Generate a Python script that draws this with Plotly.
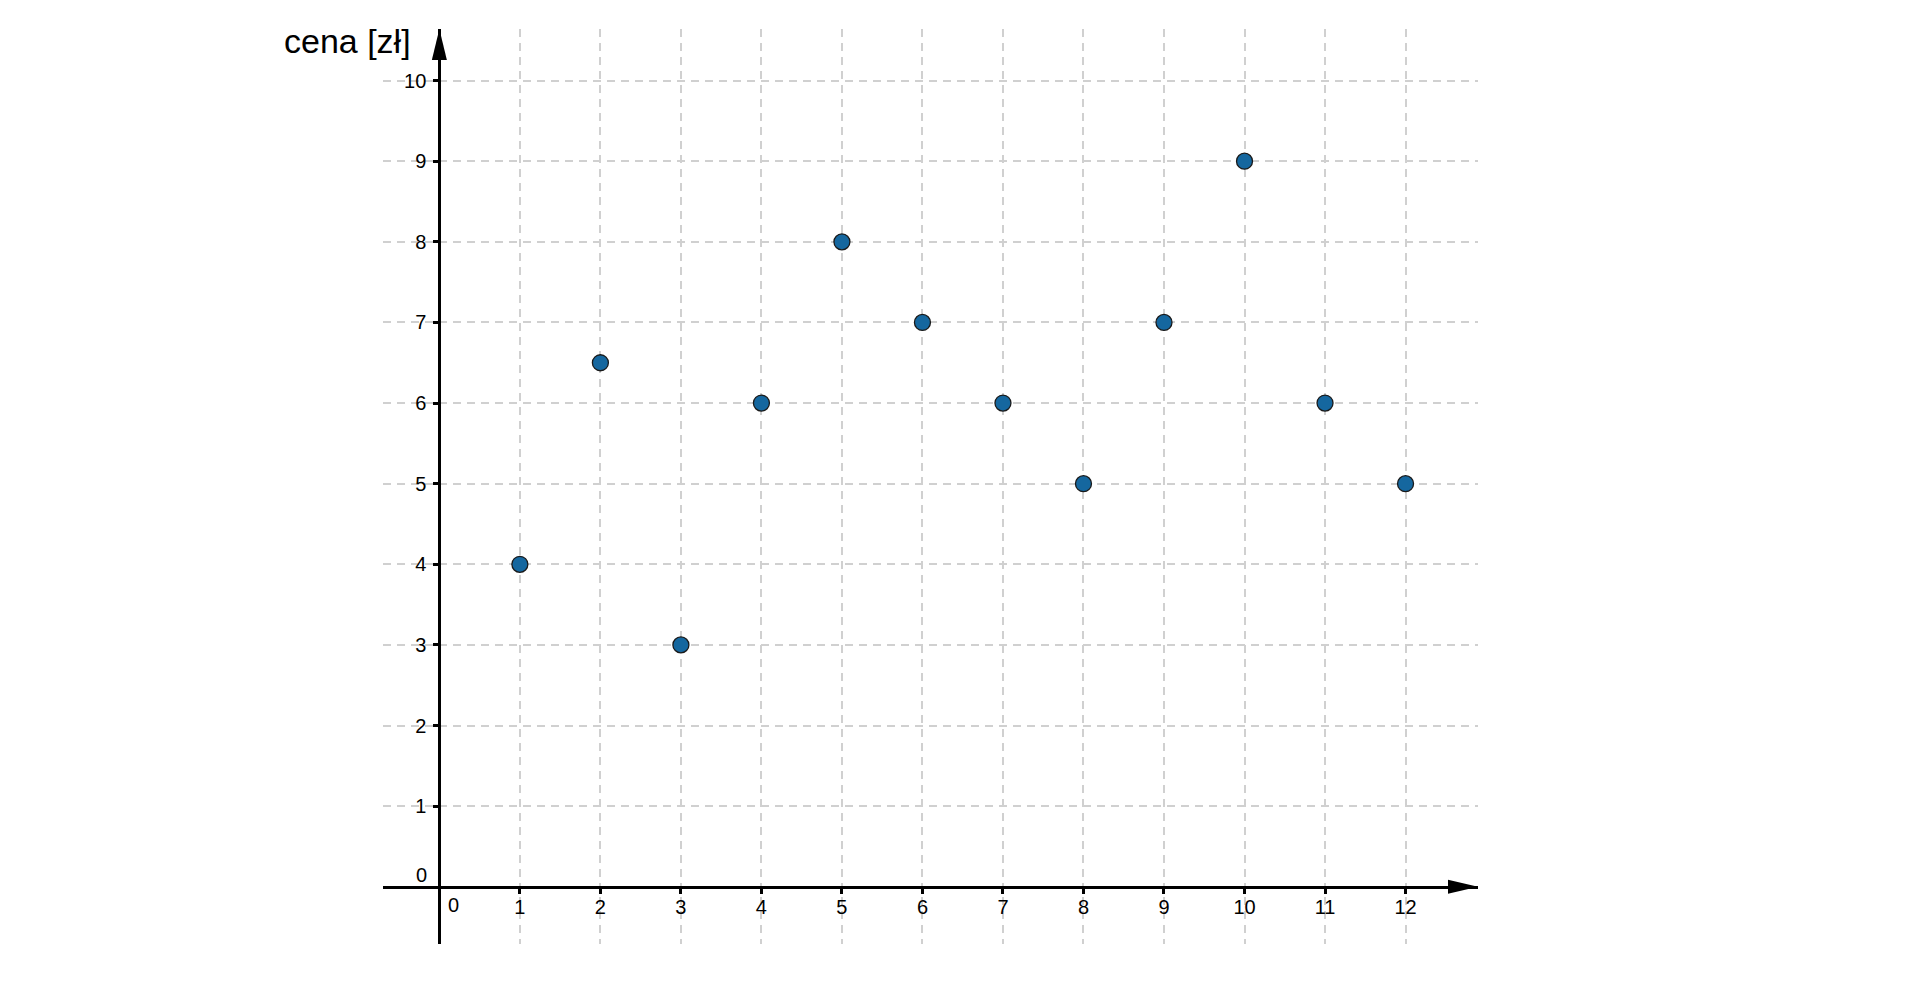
import plotly.graph_objects as go

# monthly prices
months = [1, 2, 3, 4, 5, 6, 7, 8, 9, 10, 11, 12]
prices = [4, 6.5, 3, 6, 8, 7, 6, 5, 7, 9, 6, 5]

x_ticks = list(range(1, 13))
y_ticks = list(range(1, 11))

x_range = [-0.7, 12.9]
y_range = [-0.71, 10.64]

FONT = "Liberation Sans, Arial, sans-serif"
GRID = "#d0d0d0"

fig = go.Figure()
fig.add_trace(
    go.Scatter(
        x=months,
        y=prices,
        mode="markers",
        marker=dict(size=16, color="#15679f", line=dict(color="#1a1a1a", width=1.3)),
        cliponaxis=False,
        hoverinfo="x+y",
    )
)

# the page body adds 8px, margins are shifted to compensate
fig.update_layout(
    width=1920,
    height=1000,
    plot_bgcolor="white",
    paper_bgcolor="white",
    showlegend=False,
    margin=dict(l=375, r=450, t=21, b=64),
    font=dict(family=FONT, size=20, color="black"),
    xaxis=dict(
        range=x_range,
        tickvals=x_ticks,
        ticks="outside",
        ticklen=5,
        tickwidth=3,
        tickcolor="black",
        showline=True,
        linecolor="black",
        linewidth=3,
        anchor="free",
        position=(0 - y_range[0]) / (y_range[1] - y_range[0]),
        showgrid=True,
        gridcolor=GRID,
        gridwidth=1.5,
        griddash="8px,6px",
        zeroline=False,
        tickfont=dict(size=20),
        ticklabelstandoff=-4,
    ),
    yaxis=dict(
        range=y_range,
        tickvals=y_ticks,
        ticks="outside",
        ticklen=5,
        tickwidth=3,
        tickcolor="black",
        showline=True,
        linecolor="black",
        linewidth=3,
        anchor="free",
        position=(0 - x_range[0]) / (x_range[1] - x_range[0]),
        showgrid=True,
        gridcolor=GRID,
        gridwidth=1.5,
        griddash="8px,6px",
        zeroline=False,
        tickfont=dict(size=20),
        ticklabelstandoff=3,
    ),
)

# arrowheads at the ends of both axes
fig.add_shape(
    type="path",
    xref="x", yref="y",
    xsizemode="pixel", ysizemode="pixel",
    xanchor=x_range[1], yanchor=0,
    path="M0,0 L-30,7 L-30,-7 Z",
    fillcolor="black", line=dict(width=0),
)
fig.add_shape(
    type="path",
    xref="x", yref="y",
    xsizemode="pixel", ysizemode="pixel",
    xanchor=0, yanchor=y_range[1],
    path="M0,0 L-7.5,-31 L7.5,-31 Z",
    fillcolor="black", line=dict(width=0),
)

# zero labels and axis titles
fig.add_annotation(x=0.17, y=-0.23, text="0", showarrow=False, font=dict(size=20))
fig.add_annotation(x=-0.22, y=0.15, text="0", showarrow=False, font=dict(size=20))
fig.add_annotation(
    x=-0.33, y=10.49, text="cena [zł]", showarrow=False,
    xanchor="right", yanchor="middle", font=dict(size=34),
)
fig.add_annotation(
    x=12.84, y=-0.77, text="miesiąc", showarrow=False,
    xanchor="right", yanchor="middle", font=dict(size=34),
)

fig.write_html("out.html")
